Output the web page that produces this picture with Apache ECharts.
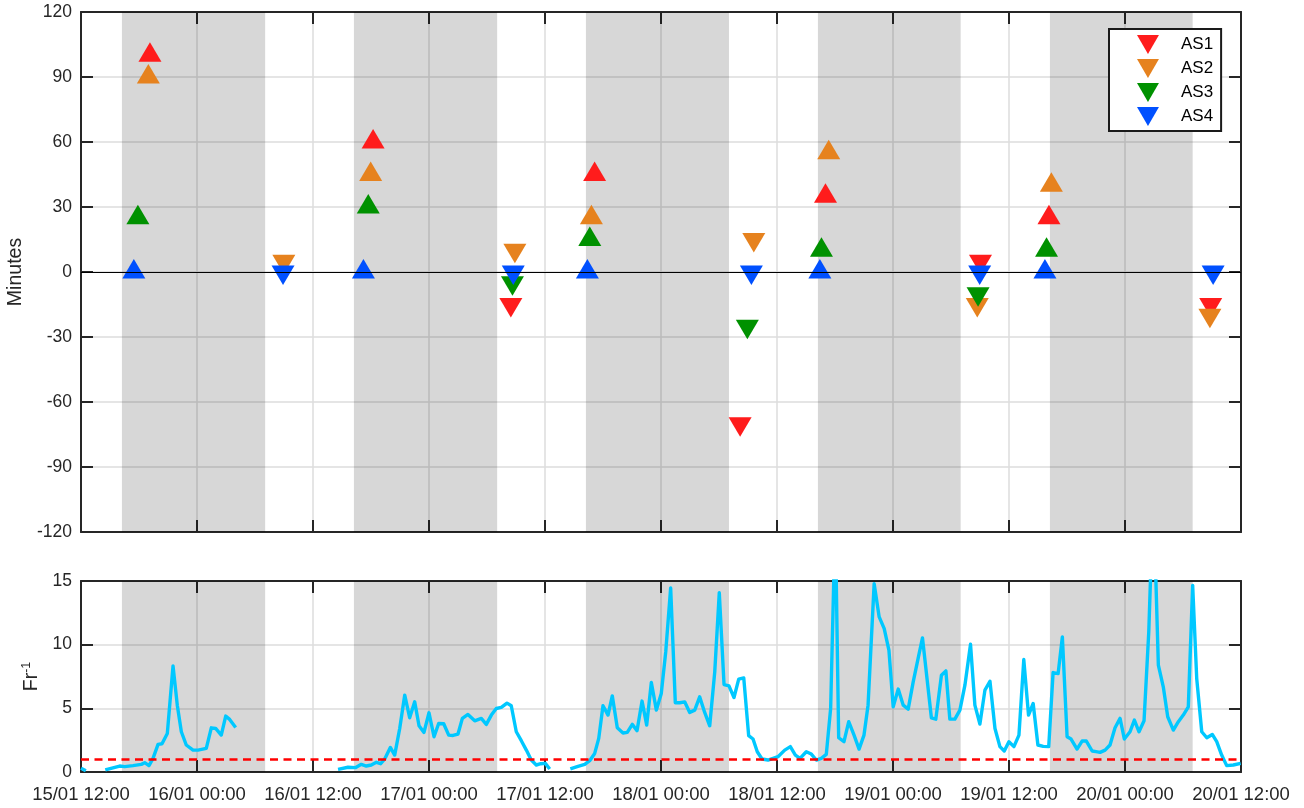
<!DOCTYPE html>
<html>
<head>
<meta charset="utf-8">
<script src="https://cdn.jsdelivr.net/npm/echarts/dist/echarts.min.js"></script>
<style>html,body{margin:0;padding:0;background:#fff}#c{width:1304px;height:808px}</style>
</head>
<body>
<div id="c"></div>
<script>
// ---------- data ----------
const xTickLabels = ['15/01 12:00','16/01 00:00','16/01 12:00','17/01 00:00','17/01 12:00','18/01 00:00','18/01 12:00','19/01 00:00','19/01 12:00','20/01 00:00','20/01 12:00'];
const nightStart = ['15/01 16:14','16/01 16:14','17/01 16:14','18/01 16:14','19/01 16:14'];
const nightEnd   = ['16/01 07:03','17/01 07:03','18/01 07:02','19/01 07:00','20/01 07:00'];

// reference (AS4) time of each transition event and marker direction
const eventTimes  = ['15/01 17:28','16/01 08:54','16/01 17:13','17/01 08:43','17/01 16:23','18/01 09:21','18/01 16:26','19/01 08:58','19/01 15:43','20/01 09:07'];
const eventMarker = ['up','down','up','down','up','down','up','down','up','down'];
// delay in minutes of each station
const as1 = [100, null, 60, -15, 45, -70, 35, 5, 25, -15];
const as2 = [90, 5, 45, 10, 25, 15, 55, -15, 40, -20];
const as3 = [25, null, 30, -5, 15, -25, 10, -10, 10, null];
const as4 = [0, 0, 0, 0, 0, 0, 0, 0, 0, 0];

// Fr^-1 time series: hours since 15/01 00:00 (null = gap)
const frHours = [12.0,12.5,13.0,
 14.51,16.0,16.52,17.38,18.24,18.59,19.03,19.45,19.97,20.38,20.93,21.52,21.96,22.38,22.89,23.59,24.1,24.96,25.48,25.93,26.51,26.97,27.38,28.0,30.0,
 38.59,39.62,40.38,41.0,41.51,42.03,42.55,43.0,43.42,44.0,44.45,44.97,45.49,46.0,46.52,46.97,47.48,48.0,48.52,49.0,49.52,50.04,50.48,51.0,51.45,52.03,52.73,53.41,53.93,54.45,54.96,55.48,56.07,56.51,57.03,57.55,58.07,58.58,59.1,59.56,60.03,60.49,61.5,
 62.62,63.41,64.11,64.62,65.14,65.56,66.0,66.52,66.96,67.48,68.07,68.51,69.03,69.52,70.04,70.52,71.0,71.52,72.03,72.49,73.0,73.48,73.94,74.45,74.97,75.49,76.0,76.52,77.04,77.56,78.03,78.52,79.03,79.55,80.04,80.56,81.07,81.52,81.96,82.45,83.07,83.59,84.1,84.8,85.38,85.9,86.38,87.03,87.55,88.07,88.58,89.1,89.55,90.03,90.38,90.93,91.42,91.97,92.49,93.0,93.42,94.05,94.57,95.09,95.58,96.02,96.54,97.06,97.57,98.09,98.61,99.05,99.97,100.43,101.01,101.47,101.88,102.4,102.92,103.44,104.02,104.47,104.99,105.51,106.03,106.55,107.06,107.51,107.99,108.51,109.03,109.53,110.02,110.5,110.99,111.54,112.11,112.56,113.08,113.52,114.01,114.42,115.04,115.56,116.0,116.6,117.0,117.42,117.94,118.45,118.97,119.49,119.93,120.52,120.97,121.45,121.97,122.46,122.93,123.45,123.96,124.42,125.0,125.52,126.03,126.55,127.0,127.42,127.94,128.46,129.03,129.49,130.0,130.52,131.21,131.97];
const frValues = [0.3,0.1,null,
 0.16,0.47,0.42,0.5,0.6,0.73,0.5,1.07,2.17,2.22,3.03,8.33,5.25,3.16,2.12,1.72,1.72,1.85,3.47,3.42,2.9,4.39,4.13,3.5,null,
 0.21,0.37,0.34,0.6,0.47,0.55,0.76,0.65,1.02,1.93,1.33,3.42,6.04,4.26,5.51,3.63,3.11,4.65,2.77,3.81,3.79,2.9,2.87,2.98,4.21,4.52,4.02,4.21,3.74,4.47,4.99,5.07,5.41,5.2,3.16,2.46,1.72,0.94,0.55,0.65,0.68,0.24,null,
 0.24,0.44,0.6,0.89,1.46,2.64,5.2,4.47,5.98,3.47,3.06,3.11,3.74,3.24,5.57,3.68,7.03,4.86,6.17,9.43,14.45,5.44,5.44,5.51,4.68,4.86,5.9,4.68,3.63,7.87,14.08,6.87,6.77,5.85,7.29,7.39,2.85,2.59,1.59,1.02,0.94,1.07,1.2,1.72,1.99,1.33,1.07,1.59,1.41,0.94,1.07,1.38,5.0,20,2.69,2.38,3.95,2.9,1.8,2.9,5.25,14.79,12.18,11.26,9.56,5.12,6.51,5.25,4.94,7.08,8.96,10.53,4.26,4.15,7.6,7.94,4.15,4.15,4.86,6.82,10.03,5.25,3.76,6.43,7.13,3.42,1.99,1.65,2.38,1.99,2.9,8.83,4.47,5.38,2.12,2.01,1.99,7.81,7.73,10.61,2.77,2.59,1.8,2.43,2.43,1.65,1.6,1.54,1.72,2.12,3.47,4.21,2.59,3.16,4.08,3.16,4.02,11,22,8.39,6.69,4.34,3.29,3.95,4.47,5.12,14.66,7.34,3.16,2.69,2.95,2.38,1.33,0.5,0.55,0.68];
const frThreshold = 1;

// ---------- helpers ----------
function toH(s) { // 'dd/MM HH:mm' -> hours since 15/01 00:00
  const [d, t] = s.split(' ');
  const day = parseInt(d.split('/')[0], 10);
  const [hh, mm] = t.split(':').map(Number);
  return (day - 15) * 24 + hh + mm / 60;
}
const FONT = "'Liberation Sans', Arial, Helvetica, sans-serif";
const AXC = '#262626';
const MS = [23, 19.5];
const colors = {AS1: '#ff1c1c', AS2: '#e6821e', AS3: '#009100', AS4: '#0050ff'};
const bands = nightStart.map((s, i) => [{xAxis: toH(s)}, {xAxis: toH(nightEnd[i])}]);

function markerData(vals) {
  const out = [];
  vals.forEach((v, i) => {
    if (v === null) return;
    const up = eventMarker[i] === 'up';
    out.push({
      value: [toH(eventTimes[i]) + v / 60, v],
      symbolRotate: up ? 0 : 180,
      symbolOffset: [0, up ? -MS[1] / 6 : MS[1] / 6]
    });
  });
  return out;
}

function xAx(grid, pos, labels, split) {
  return {
    type: 'value', gridIndex: grid, position: pos, min: 12, max: 132, interval: 12,
    axisLine: {show: true, onZero: false, lineStyle: {color: AXC, width: 2}},
    axisTick: {show: true, inside: true, length: 12, lineStyle: {color: AXC, width: 2}},
    axisLabel: {show: labels, margin: 13, fontSize: 18.5, color: AXC, fontFamily: FONT,
      formatter: v => xTickLabels[Math.round((v - 12) / 12)]},
    splitLine: {show: split, lineStyle: {color: '#dcdcdc', width: 1.5}}
  };
}
function yAx(grid, pos, min, max, interval, labels, split, name, nameGap) {
  return {
    type: 'value', gridIndex: grid, position: pos, min: min, max: max, interval: interval,
    axisLine: {show: true, onZero: false, lineStyle: {color: AXC, width: 2}},
    axisTick: {show: true, inside: true, length: 12, lineStyle: {color: AXC, width: 2}},
    axisLabel: {show: labels, margin: 9, fontSize: 17.5, color: AXC, fontFamily: FONT},
    splitLine: {show: split, lineStyle: {color: '#dcdcdc', width: 1.5}},
    name: name || '', nameLocation: 'middle', nameRotate: 90, nameGap: nameGap || 0,
    nameTextStyle: {fontSize: 19.5, color: AXC, fontFamily: FONT,
      rich: {n: {fontSize: 19.5, color: AXC, fontFamily: FONT},
             s: {fontSize: 12.5, color: AXC, fontFamily: FONT, verticalAlign: 'bottom', padding: [0, 0, 10, 0]}}}
  };
}

const option = {
  animation: false,
  backgroundColor: '#fff',
  grid: [
    {left: 81, top: 12, width: 1160, height: 520, containLabel: false, outerBoundsMode: 'none'},
    {left: 81, top: 581, width: 1160, height: 191, containLabel: false, outerBoundsMode: 'none'}
  ],
  xAxis: [
    xAx(0, 'bottom', false, true),
    xAx(0, 'top', false, false),
    xAx(1, 'bottom', true, true),
    xAx(1, 'top', false, false)
  ],
  yAxis: [
    yAx(0, 'left', -120, 120, 30, true, true, 'Minutes', 48),
    yAx(0, 'right', -120, 120, 30, false, false),
    yAx(1, 'left', 0, 15, 5, true, true, '{n|Fr}{s|-1}', 28),
    yAx(1, 'right', 0, 15, 5, false, false)
  ],
  legend: {
    data: ['AS1', 'AS2', 'AS3', 'AS4'], orient: 'vertical', left: 1109, top: 29,
    padding: [6, 8, 5, 28], itemGap: 5, itemWidth: 24, itemHeight: 19,
    icon: 'path://M0,0L20,0L10,17.32Z', selectedMode: false,
    backgroundColor: '#fff', borderColor: '#1a1a1a', borderWidth: 2, borderRadius: 0,
    textStyle: {fontSize: 17, color: '#000', fontFamily: FONT, padding: [0, 0, 0, 16], lineHeight: 19}
  },
  series: [
    {type: 'line', xAxisIndex: 0, yAxisIndex: 0, data: [], z: 1, silent: true,
     markArea: {silent: true, itemStyle: {color: 'rgba(0,0,0,0.157)'}, data: bands}},
    {type: 'line', xAxisIndex: 0, yAxisIndex: 0, data: [], z: 2, silent: true,
     markLine: {silent: true, symbol: ['none', 'none'], label: {show: false},
       lineStyle: {color: '#000', width: 1.2, type: 'solid'}, data: [{yAxis: 0}]}},
    {name: 'AS1', type: 'scatter', xAxisIndex: 0, yAxisIndex: 0, symbol: 'triangle', symbolSize: MS,
     itemStyle: {color: colors.AS1, opacity: 1}, data: markerData(as1), z: 3},
    {name: 'AS2', type: 'scatter', xAxisIndex: 0, yAxisIndex: 0, symbol: 'triangle', symbolSize: MS,
     itemStyle: {color: colors.AS2, opacity: 1}, data: markerData(as2), z: 3},
    {name: 'AS3', type: 'scatter', xAxisIndex: 0, yAxisIndex: 0, symbol: 'triangle', symbolSize: MS,
     itemStyle: {color: colors.AS3, opacity: 1}, data: markerData(as3), z: 3},
    {name: 'AS4', type: 'scatter', xAxisIndex: 0, yAxisIndex: 0, symbol: 'triangle', symbolSize: MS,
     itemStyle: {color: colors.AS4, opacity: 1}, data: markerData(as4), z: 3},
    {type: 'line', xAxisIndex: 2, yAxisIndex: 2, data: [], z: 1, silent: true,
     markArea: {silent: true, itemStyle: {color: 'rgba(0,0,0,0.157)'}, data: bands}},
    {type: 'line', xAxisIndex: 2, yAxisIndex: 2, z: 2, showSymbol: false, connectNulls: false, clip: true,
     lineStyle: {color: '#00c8ff', width: 3.4, join: 'round'}, itemStyle: {color: '#00c8ff'},
     data: frHours.map((h, i) => [h, frValues[i] === null ? '-' : frValues[i]])},
    {type: 'line', xAxisIndex: 2, yAxisIndex: 2, data: [], z: 3, silent: true,
     markLine: {silent: true, symbol: ['none', 'none'], label: {show: false},
       lineStyle: {color: '#ff0000', width: 2.5, type: [8, 5.5]}, data: [{yAxis: frThreshold}]}}
  ]
};
const chart = echarts.init(document.getElementById('c'), null, {renderer: 'canvas'});
chart.setOption(option);
</script>
</body>
</html>
